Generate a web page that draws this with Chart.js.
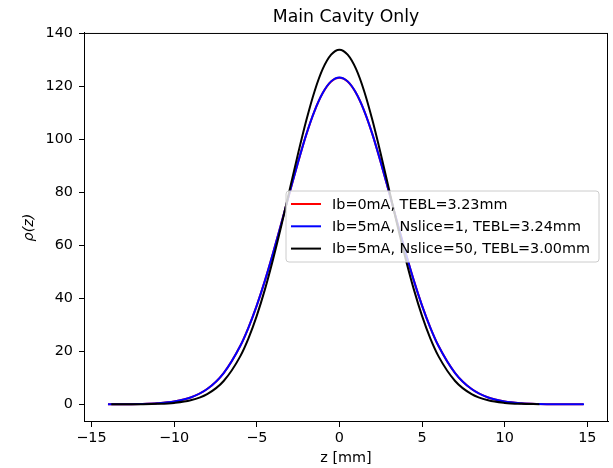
<!DOCTYPE html>
<html>
<head>
<meta charset="utf-8">
<script src="https://cdn.jsdelivr.net/npm/chart.js@4"></script>
<style>
  html, body { margin: 0; padding: 0; background: #fff; }
  #wrap { width: 613px; height: 468px; }
</style>
</head>
<body>
<div id="wrap"><canvas id="c" width="613" height="468"></canvas></div>
<script>
// Valores (z en mm, densidad rho(z)).
const zRed = [-14,-13,-12,-11,-10,-9,-8,-7,-6,-5.5,-5,-4.5,-4,-3.5,-3,-2.5,-2,-1.5,-1,-0.5,0,0.5,1,1.5,2,2.5,3,3.5,4,4.5,5,5.5,6,7,8,9,10,11,12,13,14,14.75];
const rhoRed = [0.01,0.04,0.12,0.37,1.02,2.55,5.75,11.8,22.0,29.0,37.3,46.8,57.4,68.7,80.2,91.5,102.0,110.9,117.7,122.0,123.4,122.0,117.7,110.9,102.0,91.5,80.2,68.7,57.4,46.8,37.3,29.0,22.0,11.8,5.75,2.55,1.02,0.37,0.12,0.04,0.01,0.0];

const zBlue = [-14,-13,-12,-11,-10,-9,-8,-7,-6,-5.5,-5,-4.5,-4,-3.5,-3,-2.5,-2,-1.5,-1,-0.5,0,0.5,1,1.5,2,2.5,3,3.5,4,4.5,5,5.5,6,7,8,9,10,11,12,13,14,14.8];
const rhoBlue = [0.01,0.04,0.12,0.37,1.02,2.55,5.75,11.8,22.0,29.0,37.3,46.8,57.4,68.7,80.2,91.5,102.0,110.9,117.7,122.0,123.5,122.0,117.7,110.9,102.0,91.5,80.2,68.7,57.4,46.8,37.3,29.0,22.0,11.8,5.75,2.55,1.02,0.37,0.12,0.04,0.01,0.0];

const zBlack = [-13.8,-13,-12,-11,-10,-9,-8,-7,-6,-5.5,-5,-4.5,-4,-3.5,-3,-2.5,-2,-1.5,-1,-0.5,0,0.5,1,1.5,2,2.5,3,3.5,4,4.5,5,5.5,6,7,8,9,10,11,12.1];
const rhoBlack = [0.0,0.01,0.04,0.16,0.52,1.49,3.83,8.8,18.1,24.9,33.4,43.5,55.1,67.8,81.3,94.7,107.3,118.3,126.8,132.1,134.0,132.1,126.8,118.3,107.3,94.7,81.3,67.8,55.1,43.5,33.4,24.9,18.1,8.8,3.83,1.49,0.52,0.16,0.03];

const labels = ["Ib=0mA, TEBL=3.23mm", "Ib=5mA, Nslice=1, TEBL=3.24mm", "Ib=5mA, Nslice=50, TEBL=3.00mm"];
const xTicks = [-15, -10, -5, 0, 5, 10, 15];
const yTicks = [0, 20, 40, 60, 80, 100, 120, 140];

const FONT = "'DejaVu Sans', sans-serif";
const FS = 14.4;
const pts = (xs, ys) => xs.map((x, i) => ({ x, y: ys[i] }));

// Marco de los ejes + leyenda estilo matplotlib.
const frame = {
  id: "frame",
  afterDatasetsDraw(chart) {
    const { ctx, chartArea: a } = chart;
    ctx.save();
    ctx.strokeStyle = "#000"; ctx.lineWidth = 1;
    ctx.strokeRect(a.left + 0.5, a.top + 0.5, a.right - a.left - 1, a.bottom - a.top - 1);

    // leyenda
    const x0 = 286, y0 = 191, w = 313, h = 71, r = 3;
    ctx.beginPath();
    ctx.moveTo(x0 + r, y0); ctx.arcTo(x0 + w, y0, x0 + w, y0 + h, r);
    ctx.arcTo(x0 + w, y0 + h, x0, y0 + h, r); ctx.arcTo(x0, y0 + h, x0, y0, r);
    ctx.arcTo(x0, y0, x0 + w, y0, r); ctx.closePath();
    ctx.fillStyle = "rgba(255,255,255,0.8)"; ctx.fill();
    ctx.strokeStyle = "#cccccc"; ctx.lineWidth = 1; ctx.stroke();
    ctx.font = FS + "px " + FONT; ctx.textBaseline = "middle"; ctx.fillStyle = "#000";
    chart.data.datasets.forEach((ds, i) => {
      const y = y0 + 13 + i * 22.3;
      ctx.strokeStyle = ds.borderColor; ctx.lineWidth = 2;
      ctx.beginPath(); ctx.moveTo(x0 + 5, y); ctx.lineTo(x0 + 35, y); ctx.stroke();
      ctx.fillText(ds.label, x0 + 46, y + 1);
    });
    ctx.restore();
  },
};

new Chart(document.getElementById("c"), {
  type: "line",
  data: {
    datasets: [
      { label: labels[0], data: pts(zRed, rhoRed), borderColor: "#ff0000", order: 3 },
      { label: labels[1], data: pts(zBlue, rhoBlue), borderColor: "#0000ff", order: 2 },
      { label: labels[2], data: pts(zBlack, rhoBlack), borderColor: "#000000", order: 1 },
    ].map((d) => Object.assign(d, { borderWidth: 2, pointRadius: 0, fill: false, cubicInterpolationMode: "monotone" })),
  },
  options: {
    responsive: false, animation: false, devicePixelRatio: 1,
    layout: { padding: { right: 5, left: 0, top: 0, bottom: 0 } },
    plugins: {
      legend: { display: false },
      tooltip: { enabled: false },
      title: {
        display: true, text: "Main Cavity Only", fullSize: false, color: "#000",
        font: { family: FONT, size: 17.3, weight: "normal" }, padding: { top: 7.6, bottom: 4.6 },
      },
    },
    scales: {
      x: {
        type: "linear", min: -15.45, max: 16.25,
        afterBuildTicks: (s) => { s.ticks = xTicks.map((v) => ({ value: v })); },
        afterFit: (s) => { s.height = 46; },
        grid: { drawOnChartArea: false, drawTicks: true, tickLength: 5, color: "#000" },
        border: { display: true, color: "#000" },
        ticks: { color: "#000", font: { family: FONT, size: FS }, padding: 3,
          callback: (v) => (v < 0 ? "\u2212" + Math.abs(v) : String(v)) },
        title: { display: true, text: "z [mm]", color: "#000", font: { family: FONT, size: FS }, padding: { top: 0, bottom: 1 } },
      },
      y: {
        type: "linear", min: -6.7, max: 140.3,
        afterBuildTicks: (s) => { s.ticks = yTicks.map((v) => ({ value: v })); },
        afterFit: (s) => { s.width = 84; },
        grid: { drawOnChartArea: false, drawTicks: true, tickLength: 5, color: "#000" },
        border: { display: true, color: "#000" },
        ticks: { color: "#000", font: { family: FONT, size: FS }, padding: 6 },
        title: { display: true, text: "ρ(z)", color: "#000", font: { family: FONT, size: FS, style: "italic" }, padding: { top: 21, bottom: 0 } },
      },
    },
  },
  plugins: [frame],
});
</script>
</body>
</html>
